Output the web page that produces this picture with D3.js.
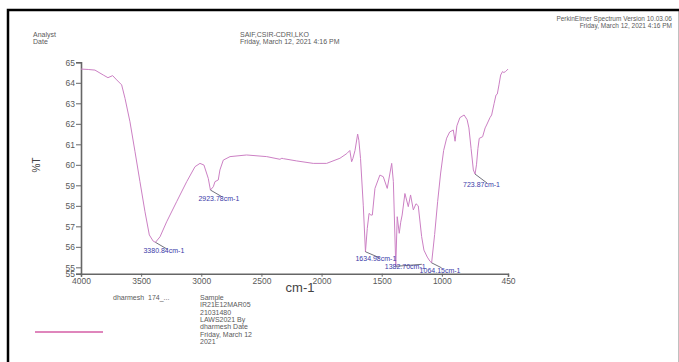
<!DOCTYPE html>
<html>
<head>
<meta charset="utf-8">
<script src="https://cdn.jsdelivr.net/npm/d3@7"></script>
<style>
  body { margin: 0; background: #fff; }
  text { font-family: "Liberation Sans", Arial, sans-serif; }
</style>
</head>
<body>
<div id="chart"></div>
<script>
// spectrum (wavenumber in cm-1, %T)
const wavenumbers = [4000, 3940, 3884, 3815, 3776, 3737, 3703, 3662, 3634, 3593, 3551, 3510, 3468, 3432, 3400, 3381,
  3343, 3288, 3205, 3121, 3052, 3011, 2978, 2942, 2924, 2900, 2886, 2859, 2845, 2817, 2761, 2623, 2456, 2346, 2330,
  2317, 2207, 2069, 1958, 1847, 1790, 1765, 1750, 1740, 1722, 1700, 1690, 1676, 1653, 1635, 1620, 1605, 1590, 1578,
  1556, 1515, 1487, 1454, 1417, 1403, 1383, 1371, 1354, 1342, 1330, 1307, 1279, 1260, 1237, 1215, 1196, 1168, 1149,
  1121, 1099, 1085, 1060, 1035, 1010, 985, 960, 935, 905, 890, 875, 850, 815, 790, 775, 757, 738, 724, 712, 700, 689,
  661, 640, 628, 600, 586, 565, 550, 539, 525, 511, 495, 485, 470, 450];
const transmittance = [64.67, 64.65, 64.62, 64.38, 64.25, 64.35, 64.14, 63.9, 63.24, 62.1, 60.64, 59.18, 57.71, 56.58, 56.28, 56.22,
  56.49, 57.22, 58.2, 59.18, 59.91, 60.07, 59.99, 59.34, 58.77, 58.93, 59.18, 59.26, 59.75, 60.23, 60.4, 60.48, 60.4, 60.27, 60.32,
  60.3, 60.19, 60.07, 60.07, 60.32, 60.55, 60.7, 60.15, 60.3, 60.7, 61.5, 61.2, 60.3, 58.0, 55.76, 56.9, 57.63, 57.55, 57.55,
  58.85, 59.5, 59.42, 58.85, 60.07, 59.18, 55.05, 57.47, 56.66, 57.2, 57.55, 58.6, 57.96, 58.53, 57.8, 58.1, 58.0, 56.5, 55.84,
  55.5, 55.3, 55.22, 56.6, 58.2, 59.6, 60.7, 61.3, 61.6, 61.7, 61.15, 61.9, 62.3, 62.43, 62.2, 61.8, 60.8, 59.75, 59.55, 60.0, 60.8, 61.29,
  61.37, 61.8, 61.94, 62.3, 62.43, 63.0, 63.4, 63.45, 63.9, 64.38, 64.55, 64.5, 64.55, 64.67];

// labelled peaks
const peakWavenumbers = [3380.84, 2923.78, 1634.98, 1382.70, 1064.15, 723.87];
const peakValues = [56.22, 58.77, 55.76, 55.05, 55.22, 59.55];
const peakPlotAt = [3381, 2924, 1635, 1383, 1085, 724];

const xTicks = [4000, 3500, 3000, 2500, 2000, 1500, 1000, 450];
const yTicks = [54.69, 55, 56, 57, 58, 59, 60, 61, 62, 63, 64, 65];

const headerLeft = ["Analyst", "Date"];
const headerCenter = ["SAIF,CSIR-CDRI,LKO", "Friday, March 12, 2021 4:16 PM"];
const headerRight = ["PerkinElmer Spectrum Version 10.03.06", "Friday, March 12, 2021 4:16 PM"];
const legendName = "dharmesh  174_...";
const legendInfo = ["Sample", "IR21E12MAR05", "21031480", "LAWS2021 By", "dharmesh Date", "Friday, March 12", "2021"];

// label placement relative to each peak [leader dx, leader dy, text dx, text dy]
const labelOffsets = [[12, 7, -12, 11], [12, 7, -12, 11], [14, 6, -10, 9], [26, -2, -11, 3], [10, 5, -12, 10], [12, 9, -12, 13]];

const W = 679, H = 362;
const PLOT = {left: 81, right: 508, top: 62.3, bottom: 273.7};
const LINE_COLOR = "#cc80c4";
const TEXT_COLOR = "#5a5a5a";
const ANNOT_COLOR = "#3a3aa8";

const svg = d3.select("#chart").append("svg")
    .attr("width", W)
    .attr("height", H);

svg.append("rect")
    .attr("x", 8).attr("y", 10)
    .attr("width", 672).attr("height", 362)
    .attr("fill", "none")
    .attr("stroke", "#000")
    .attr("stroke-width", 2.5);

// header
const header = svg.append("g").attr("font-size", "7px").attr("fill", TEXT_COLOR);
headerLeft.forEach((t, i) => header.append("text").attr("x", 33).attr("y", 37 + i * 7).text(t));
headerCenter.forEach((t, i) => header.append("text").attr("x", 240).attr("y", 37 + i * 7).text(t));
headerRight.forEach((t, i) => header.append("text").attr("x", 672).attr("y", 21 + i * 7)
    .attr("text-anchor", "end").attr("font-size", "6.5px").text(t));

const x = d3.scaleLinear()
    .domain([4000, 450])
    .range([PLOT.left, PLOT.right]);

const y = d3.scaleLinear()
    .domain([54.69, 65])
    .range([PLOT.bottom, PLOT.top]);

// axes
const xAxis = svg.append("g")
    .attr("transform", "translate(0," + PLOT.bottom + ")")
    .call(d3.axisBottom(x).tickValues(xTicks).tickSize(3).tickPadding(1).tickFormat(d3.format("d")));

const yAxis = svg.append("g")
    .attr("transform", "translate(" + PLOT.left + ",0)")
    .call(d3.axisLeft(y).tickValues(yTicks).tickSize(5).tickPadding(1).tickFormat(d3.format(".0f")));

[xAxis, yAxis].forEach(a => {
    a.select(".domain").attr("stroke", "#666").attr("stroke-width", 1.6);
    a.selectAll(".tick line").attr("stroke", "#666");
    a.selectAll(".tick text").attr("fill", TEXT_COLOR).attr("font-size", "8.5px")
        .attr("font-family", "Liberation Sans, Arial, sans-serif");
});

svg.append("text")
    .attr("x", 300).attr("y", 292)
    .attr("text-anchor", "middle")
    .attr("font-size", "13px")
    .attr("fill", "#444")
    .text("cm-1");

svg.append("text")
    .attr("transform", "translate(40,165) rotate(-90)")
    .attr("text-anchor", "middle")
    .attr("font-size", "10px")
    .attr("fill", "#444")
    .text("%T");

// spectrum
const spectrum = wavenumbers.map((w, i) => ({w, t: transmittance[i]}));
const line = d3.line()
    .x(d => x(d.w))
    .y(d => y(d.t));

svg.append("path")
    .datum(spectrum)
    .attr("fill", "none")
    .attr("stroke", LINE_COLOR)
    .attr("stroke-width", 1)
    .attr("d", line);

// peak labels
const annot = svg.append("g");
peakWavenumbers.forEach((p, i) => {
    const px = x(peakPlotAt[i]);
    const py = y(peakValues[i]);
    const [lx, ly, tx, ty] = labelOffsets[i];
    annot.append("line")
        .attr("x1", px).attr("y1", py)
        .attr("x2", px + lx).attr("y2", py + ly)
        .attr("stroke", "#334").attr("stroke-width", 0.7);
    annot.append("text")
        .attr("x", px + tx).attr("y", py + ty)
        .attr("font-size", "7px")
        .attr("fill", ANNOT_COLOR)
        .text(p.toFixed(2) + "cm-1");
});

// legend
svg.append("line")
    .attr("x1", 35).attr("x2", 103)
    .attr("y1", 332).attr("y2", 332)
    .attr("stroke", "#d45ea6")
    .attr("stroke-width", 1.5);

const legend = svg.append("g").attr("font-size", "7px").attr("fill", TEXT_COLOR);
legend.append("text").attr("x", 113).attr("y", 300).attr("xml:space", "preserve").text(legendName);
legendInfo.forEach((t, i) => legend.append("text").attr("x", 200).attr("y", 300 + i * 7.3).text(t));
</script>
</body>
</html>
